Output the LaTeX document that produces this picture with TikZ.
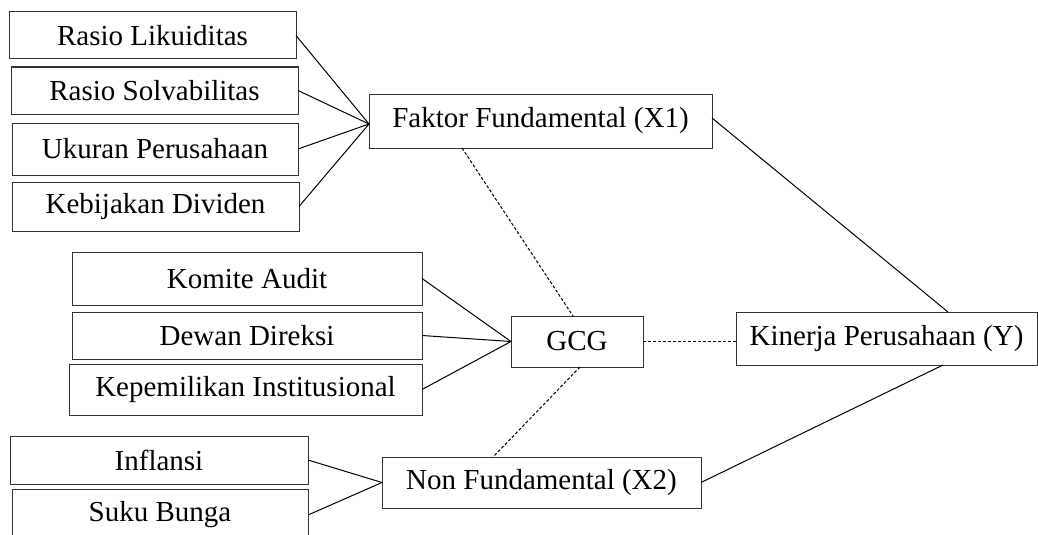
\documentclass[tikz,border=0pt]{standalone}
\usepackage{fontspec}
\setmainfont{Liberation Serif}
\begin{document}
\begin{tikzpicture}[x=1pt,y=-1pt,
  box/.style={draw=black!80, line width=1pt, inner sep=0pt, outer sep=0pt,
    font=\fontsize{29}{33}\selectfont, text=black},
  link/.style={draw=black, line width=1pt},
  dlink/.style={draw=black, line width=1pt, dash pattern=on 3pt off 2pt}]
\useasboundingbox (0,0) rectangle (1038,535);
\node[box, minimum width=287pt, minimum height=47pt] (rl) at (152.5,35.5) {Rasio Likuiditas};
\node[box, minimum width=287pt, minimum height=47pt] (rs) at (154.5,90.5) {Rasio Solvabilitas};
\node[box, minimum width=286pt, minimum height=52pt] (up) at (155,149) {Ukuran Perusahaan};
\node[box, minimum width=287pt, minimum height=49pt] (kd) at (155.5,206.5) {Kebijakan Dividen};
\node[box, minimum width=343pt, minimum height=54pt] (ff) at (540.5,121) {Faktor Fundamental (X1)};
\node[box, minimum width=350pt, minimum height=53pt] (ka) at (247,278.5) {Komite Audit};
\node[box, minimum width=350pt, minimum height=47pt] (dd) at (247,335.5) {Dewan Direksi};
\node[box, minimum width=353pt, minimum height=51pt] (ki) at (245.5,389.5) {Kepemilikan Institusional};
\node[box, minimum width=132pt, minimum height=51pt] (gcg) at (577,341.5) {GCG};
\node[box, minimum width=301pt, minimum height=53pt] (kp) at (886.5,338.5) {Kinerja Perusahaan (Y)};
\node[box, minimum width=298pt, minimum height=48pt] (inf) at (159,460) {Inflansi};
\node[box, minimum width=296pt, minimum height=52pt] (sb) at (160,515) {Suku Bunga};
\node[box, minimum width=319pt, minimum height=51pt] (nf) at (541.5,482.5) {Non Fundamental (X2)};
\foreach \n in {rl,rs,up,kd} \draw[link] (\n.east) -- ([yshift=-3pt]ff.west);
\foreach \n in {ka,dd,ki} \draw[link] (\n.east) -- (gcg.west);
\foreach \n in {inf,sb} \draw[link] (\n.east) -- (nf.west);
\draw[link] ([yshift=3pt]ff.east) -- ([xshift=61.5pt]kp.north);
\draw[link] (nf.east) -- ([xshift=56.5pt]kp.south);
\draw[dlink] ([xshift=-78.5pt]ff.south) -- ([xshift=-4pt]gcg.north);
\draw[dlink] ([xshift=3pt]gcg.south) -- ([xshift=-48.5pt]nf.north);
\draw[dlink] (gcg.east) -- (gcg.east -| kp.west);
\end{tikzpicture}
\end{document}
